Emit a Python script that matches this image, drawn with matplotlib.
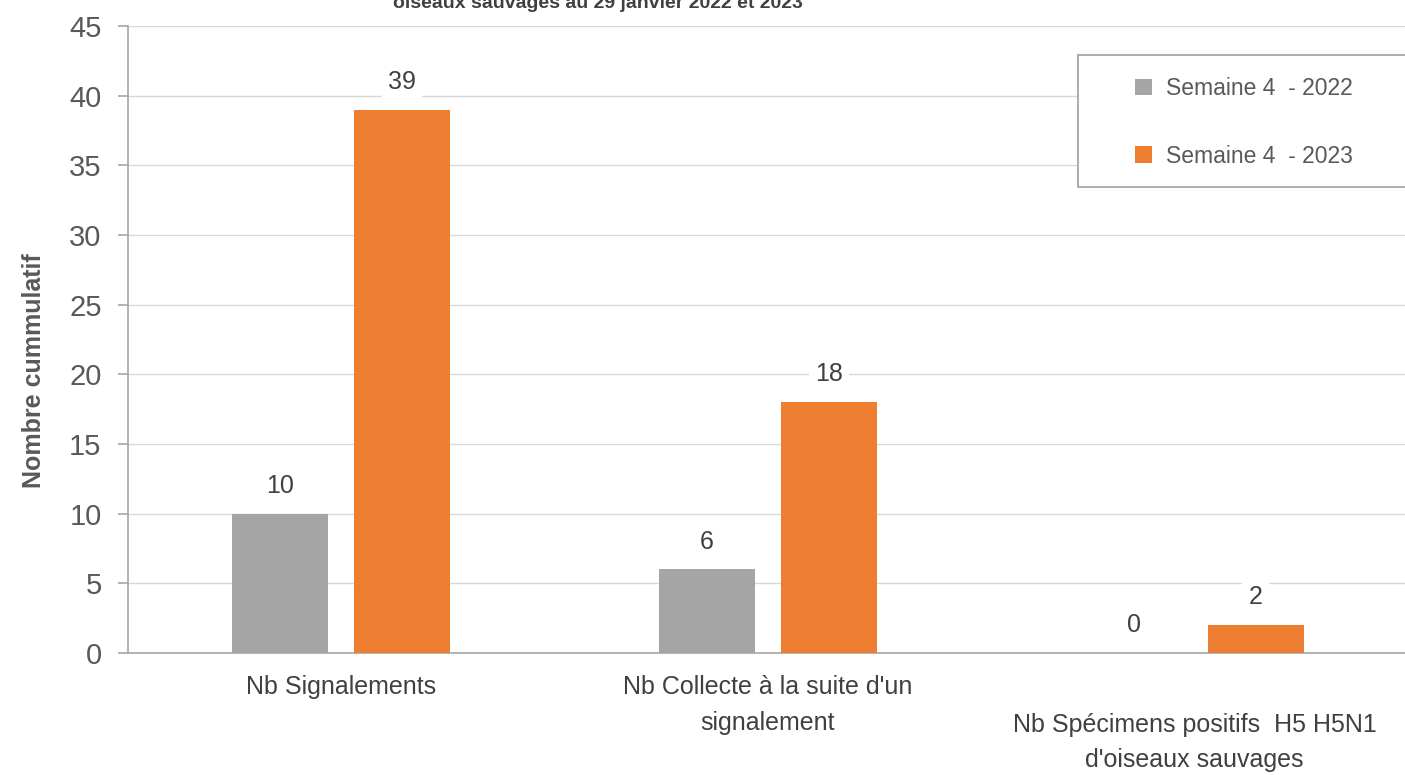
import matplotlib
matplotlib.use("Agg")
import matplotlib.pyplot as plt
import matplotlib.transforms as mtransforms
from matplotlib.patches import Rectangle
import numpy as np

plt.rcParams['font.family'] = ['Liberation Sans', 'DejaVu Sans']

categories = [
    "Nb Signalements",
    "Nb Collecte à la suite d'un\nsignalement",
    "Nb Spécimens positifs  H5 H5N1\nd'oiseaux sauvages",
]
series_names = ["Semaine 4  - 2022", "Semaine 4  - 2023"]
values_2022 = [10, 6, 0]
values_2023 = [39, 18, 2]
y_ticks = [0, 5, 10, 15, 20, 25, 30, 35, 40, 45]
title = "oiseaux sauvages au 29 janvier 2022 et 2023"
ylabel = "Nombre cummulatif"

GRAY = "#a5a5a5"
ORANGE = "#ed7d31"
TEXT = "#595959"

W, H = 1405, 775
fig = plt.figure(figsize=(W / 100, H / 100), dpi=100)
ax = fig.add_axes([128 / W, 1 - 653 / H, 1 - 128 / W + 0.002, (653 - 26) / H])

x = np.arange(len(categories))
width = 0.225
offset = 0.143

bars_a = ax.bar(x - offset, values_2022, width, color=GRAY, label=series_names[0], zorder=3)
bars_b = ax.bar(x + offset, values_2023, width, color=ORANGE, label=series_names[1], zorder=3)

for bars in (bars_a, bars_b):
    for b in bars:
        h = b.get_height()
        ax.annotate(f"{h:g}", (b.get_x() + b.get_width() / 2, h),
                    xytext=(0, 20), textcoords="offset points",
                    ha="center", va="center", fontsize=18, color="#404040",
                    bbox=dict(boxstyle="square,pad=0.25", fc="white", ec="none"),
                    zorder=4)

ax.set_xlim(-0.5, 2.5)
ax.set_ylim(0, 45)
ax.set_yticks(y_ticks)
ax.tick_params(axis="y", labelsize=21, colors="#a6a6a6", labelcolor=TEXT,
               length=7, width=1.2, direction="out", pad=12)
ax.set_xticks([])
ax.grid(axis="y", color="#d9d9d9", linewidth=1, zorder=0)
ax.set_axisbelow(True)
for side in ("top", "right"):
    ax.spines[side].set_visible(False)
ax.spines["left"].set_color("#a6a6a6")
ax.spines["left"].set_linewidth(1.2)
ax.spines["bottom"].set_color("#a6a6a6")
ax.spines["bottom"].set_linewidth(1.2)

# category labels under each group (the last one sits one line lower)
trans = mtransforms.blended_transform_factory(ax.transData, ax.transAxes)
label_drop = [16, 16, 43]
for xi, cat, drop in zip(x, categories, label_drop):
    ax.annotate(cat, (xi, 0), xycoords=trans, xytext=(0, -drop), textcoords="offset points",
                ha="center", va="top", fontsize=18, color="#404040", linespacing=1.6,
                annotation_clip=False)

ax.set_ylabel(ylabel, fontsize=18, color=TEXT, fontweight="bold")
ax.yaxis.set_label_coords(-0.064, 0.45)

# legend box running past the right edge
fig.add_artist(Rectangle((1078 / W, 1 - 187 / H), (1420 - 1078) / W, 132 / H,
                         transform=fig.transFigure, fc="white", ec="#a0a0a0",
                         lw=1.2, zorder=5, clip_on=False))
leg = fig.legend(loc="upper left", bbox_to_anchor=(1135 / W, 1 - 77 / H),
                 fontsize=16.5, frameon=False,
                 handlelength=0.75, handleheight=0.75, handletextpad=0.6,
                 labelspacing=1.95, borderpad=0, borderaxespad=0)
leg.set_zorder(6)
for t in leg.get_texts():
    t.set_color(TEXT)

fig.text(598 / W, 1.0 - 8 / H, title, ha="center", va="baseline",
         fontsize=14, fontweight="bold", color="#404040")

fig.savefig("out.png", dpi=100)
